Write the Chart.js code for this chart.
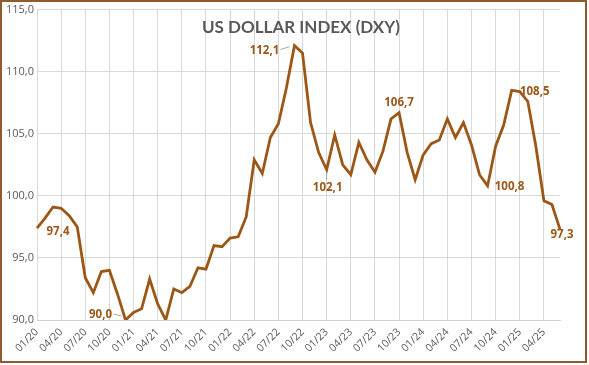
<!DOCTYPE html>
<html>
<head>
<meta charset="utf-8">
<script src="https://cdn.jsdelivr.net/npm/chart.js@4.4.1/dist/chart.umd.min.js"></script>
<style>
  html, body { margin: 0; padding: 0; background: #fff; }
  #wrap { width: 589px; height: 365px; }
</style>
</head>
<body>
<div id="wrap"><canvas id="dxy" width="589" height="365"></canvas></div>
<script>
// months 01/20 .. 06/25
const years = ['20', '21', '22', '23', '24', '25'];
const months = ['01','02','03','04','05','06','07','08','09','10','11','12'];
const monthLabels = [];
years.forEach(y => months.forEach(m => monthLabels.push(m + '/' + y)));
monthLabels.length = 66;

const dxy2020 = [97.4, 98.2, 99.1, 99.0, 98.4, 97.5, 93.4, 92.2, 93.9, 94.0, 92.1, 90.0];
const dxy2021 = [90.6, 90.9, 93.3, 91.3, 90.0, 92.5, 92.2, 92.7, 94.2, 94.1, 96.0, 95.9];
const dxy2022 = [96.6, 96.7, 98.3, 102.9, 101.8, 104.7, 105.8, 108.7, 112.1, 111.5, 105.9, 103.5];
const dxy2023 = [102.1, 104.9, 102.5, 101.7, 104.3, 102.9, 101.9, 103.6, 106.2, 106.7, 103.5, 101.3];
const dxy2024 = [103.3, 104.2, 104.5, 106.2, 104.7, 105.9, 104.1, 101.7, 100.8, 104.0, 105.7, 108.5];
const dxy2025 = [108.4, 107.6, 104.0, 99.6, 99.3, 97.3];
const dxyValues = [].concat(dxy2020, dxy2021, dxy2022, dxy2023, dxy2024, dxy2025);

const yTicks = [90, 95, 100, 105, 110, 115];

// points that carry a value label (index into dxyValues)
const labelled = [0, 11, 32, 36, 45, 56, 59, 65];

const lineColor = '#9c5716';
const labelStyle = {
  0:  { dx: 21, dy: 4 },
  11: { dx: -25, dy: -5, lead: [-12, -6, -4, -4] },
  32: { dx: -30, dy: 5, lead: [-14, 4, -5, 1] },
  36: { dx: 1, dy: 18, lead: [0, 3, 0, 10] },
  45: { dx: 0, dy: -10 },
  56: { dx: 22, dy: 1 },
  59: { dx: 23, dy: 1 },
  65: { dx: 2, dy: 5 }
};

const fmt = v => v.toFixed(1).replace('.', ',');

const decor = {
  id: 'decor',
  afterDatasetsDraw(chart) {
    const ctx = chart.ctx;
    const meta = chart.getDatasetMeta(0);
    ctx.save();
    labelled.forEach(i => {
      const p = meta.data[i];
      const s = labelStyle[i];
      if (s.lead) {
        ctx.strokeStyle = '#a6a6a6';
        ctx.lineWidth = 1;
        ctx.beginPath();
        ctx.moveTo(p.x + s.lead[0], p.y + s.lead[1]);
        ctx.lineTo(p.x + s.lead[2], p.y + s.lead[3]);
        ctx.stroke();
      }
      ctx.fillStyle = lineColor;
      ctx.font = 'bold 11.5px "Open Sans", sans-serif';
      ctx.textAlign = 'center';
      ctx.textBaseline = 'middle';
      ctx.fillText(fmt(dxyValues[i]), p.x + s.dx, p.y + s.dy);
    });
    // title
    ctx.fillStyle = '#595959';
    ctx.font = 'bold 17px Lato, sans-serif';
    ctx.textAlign = 'center';
    ctx.textBaseline = 'alphabetic';
    ctx.fillText('US DOLLAR INDEX (DXY)', 301, 33);
    // chart frame
    ctx.strokeStyle = '#8e5b2c';
    ctx.lineWidth = 2;
    ctx.strokeRect(1, 1, 585, 361);
    ctx.restore();
  }
};

new Chart(document.getElementById('dxy'), {
  type: 'line',
  data: {
    labels: monthLabels,
    datasets: [{
      data: dxyValues,
      borderColor: lineColor,
      borderWidth: 2.8,
      pointRadius: 0,
      tension: 0,
      fill: false
    }]
  },
  options: {
    responsive: false,
    devicePixelRatio: 1,
    animation: false,
    layout: { padding: { left: 0, top: 6, right: 29, bottom: 0 } },
    plugins: { legend: { display: false }, tooltip: { enabled: false } },
    scales: {
      x: {
        offset: false,
        grid: {
          color: c => (c.index % 3 === 0 ? '#d9d9d9' : 'rgba(0,0,0,0)'),
          drawTicks: false
        },
        border: { color: '#d0d0d0' },
        ticks: {
          autoSkip: false,
          minRotation: 45,
          maxRotation: 45,
          padding: 6,
          color: '#595959',
          font: { family: '"Open Sans", sans-serif', size: 10.5 },
          callback: function (v, i) { return i % 3 === 0 ? monthLabels[i] : ''; }
        },
        afterFit: s => { s.height = 45; }
      },
      y: {
        min: 90,
        max: 115,
        afterBuildTicks: s => { s.ticks = yTicks.map(v => ({ value: v })); },
        grid: { color: '#d9d9d9', drawTicks: false },
        border: { display: false },
        ticks: {
          padding: 3,
          color: '#595959',
          font: { family: '"Open Sans", sans-serif', size: 11 },
          callback: v => fmt(v)
        },
        afterFit: s => { s.width = 37; }
      }
    }
  },
  plugins: [decor]
});
</script>
</body>
</html>
